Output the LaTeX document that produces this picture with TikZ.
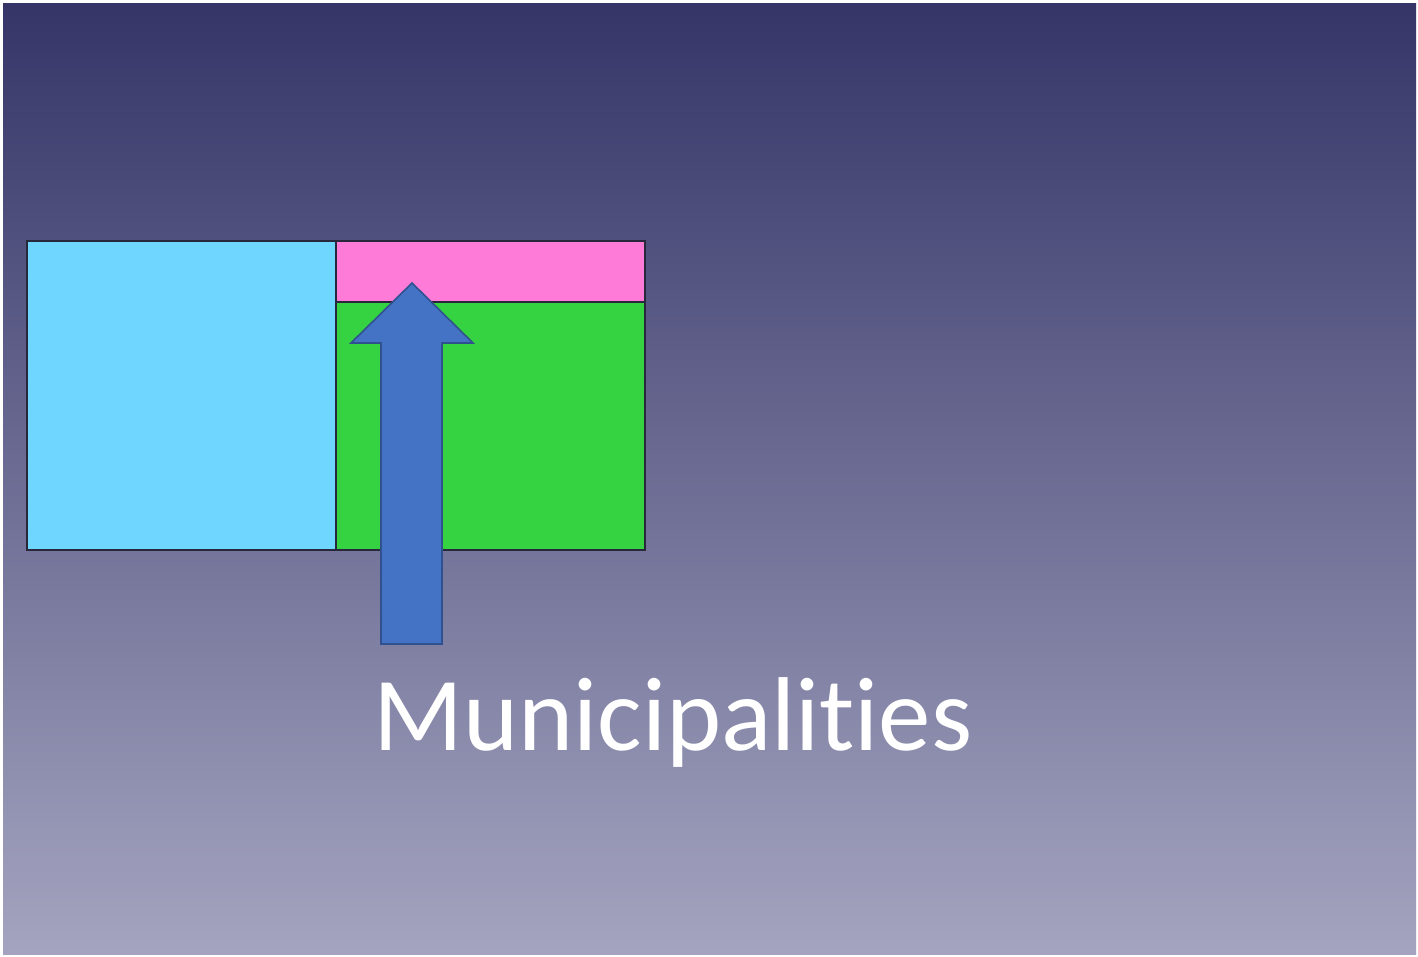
\documentclass[tikz,border=0pt]{standalone}
\usepackage{fontspec}
\newfontfamily\labelfont[Ligatures=NoCommon]{Carlito}
\definecolor{bgtop}{RGB}{53,53,104}
\definecolor{bgbot}{RGB}{164,164,192}
\definecolor{cyanbox}{RGB}{110,214,255}
\definecolor{pinkbox}{RGB}{255,123,216}
\definecolor{greenbox}{RGB}{53,210,65}
\definecolor{arrowfill}{RGB}{68,114,196}
\definecolor{arrowline}{RGB}{47,82,143}
\definecolor{boxline}{RGB}{40,40,60}
\tikzset{
  region/.style={draw=boxline, line width=1.2pt},
}
\begin{document}
\begin{tikzpicture}[x=1pt,y=-1pt]
\useasboundingbox (0,0) rectangle (1418,956);
\fill[white] (0,0) rectangle (1418,956);
\shade[top color=bgtop, bottom color=bgbot] (3,3) rectangle (1416,954);
\draw[region, fill=cyanbox] (27,241) rectangle (336,550);
\draw[region, fill=pinkbox] (336,241) rectangle (645,302);
\draw[region, fill=greenbox] (336,302) rectangle (645,550);
\draw[fill=arrowfill, draw=arrowline, line width=1.6pt, line join=miter]
  (412,283) -- (473,343) -- (442,343) -- (442,644) -- (381,644) -- (381,343) -- (351,343) -- cycle;
\node[anchor=base, text=white, inner sep=0pt, font=\labelfont\fontsize{105}{120}\selectfont] (label) at (673,750) {Municipalit{}ies};
\end{tikzpicture}
\end{document}
